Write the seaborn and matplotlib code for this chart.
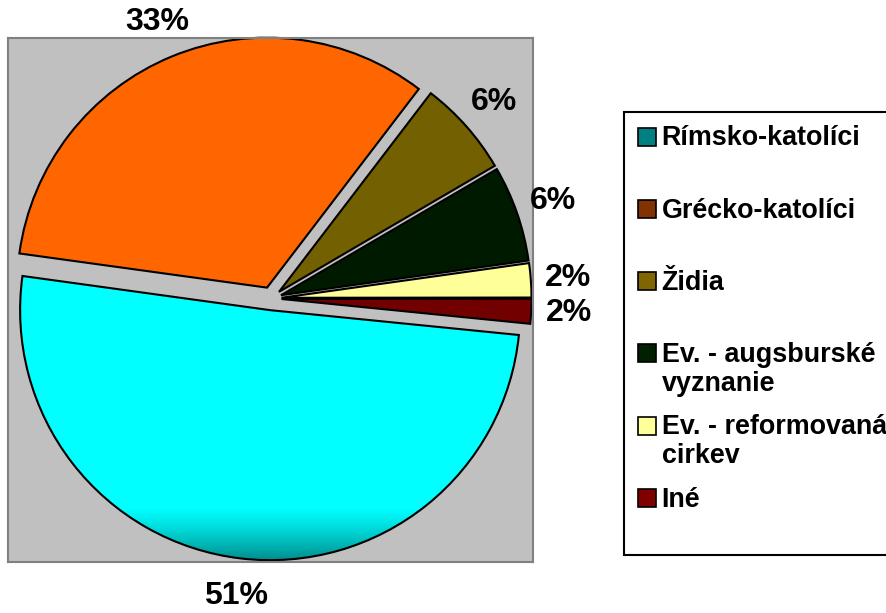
import matplotlib.pyplot as plt
import numpy as np
import seaborn as sns
from matplotlib.colors import LinearSegmentedColormap
from matplotlib.lines import Line2D

# data (shares in %)
groups = ["Rímsko-katolíci", "Grécko-katolíci", "Židia",
          "Ev. - augsburské\nvyznanie", "Ev. - reformovaná\ncirkev", "Iné"]
shares = [50.6, 33.2, 6.2, 6.2, 2.2, 1.6]
explode = [0.047, 0.047, 0.04, 0.04, 0.04, 0.04]

pie_colors = ["#00FFFF", "#FF6600", "#736000", "#001A00", "#FFFF99", "#720000"]
legend_colors = ["#008080", "#803300", "#806600", "#002000", "#FFFF99", "#800000"]

sns.set_style("white")
plt.rcParams["font.family"] = ["Liberation Sans", "DejaVu Sans"]
plt.rcParams["font.weight"] = "bold"
plt.rcParams["text.color"] = "black"

fig = plt.figure(figsize=(8.86, 6.13), dpi=100)
ax = fig.add_axes([8 / 886, 51 / 613, 525 / 886, 524 / 613])
ax.set_facecolor("#C0C0C0")

wedges, texts, autotexts = ax.pie(
    shares, colors=sns.color_palette(pie_colors), explode=explode,
    startangle=-5.7, counterclock=False, autopct="%.0f%%", pctdistance=1.15,
    frame=True, wedgeprops=dict(edgecolor="black", linewidth=1.5))

for t in autotexts:
    t.set_fontsize(23)
    t.set_fontweight("bold")
    t.set_color("black")

# cyan wedge darkens toward teal at the bottom
cmap = LinearSegmentedColormap.from_list("cy", ["#00FFFF", "#00FFFF", "#008585"])
yy = np.linspace(0, 1, 256).reshape(-1, 1)
img = ax.imshow(yy ** 4, cmap=cmap, extent=[-1.1, 1.1, -1.06, 0.3],
                origin="upper", aspect="auto", zorder=wedges[0].get_zorder() + 0.5)
img.set_clip_path(wedges[0])
wedges[0].set_facecolor("none")
wedges[0].set_zorder(wedges[0].get_zorder() + 1)

ax.set_xlim(-1.054, 1.046)
ax.set_ylim(-1.054, 1.042)
ax.set_aspect("auto")
ax.set_xticks([])
ax.set_yticks([])
for s in ax.spines.values():
    s.set_visible(True)
    s.set_color("#808080")
    s.set_linewidth(1.5)

# legend: every entry takes two lines so entries sit at an even pitch
handles = [Line2D([], [], marker="s", linestyle="none", markersize=13,
                  markerfacecolor=c, markeredgecolor="black", markeredgewidth=1.2)
           for c in legend_colors]
labels = [g if "\n" in g else g + "\n " for g in groups]
leg = fig.legend(handles, labels, loc="upper left",
                 bbox_to_anchor=(624 / 886, 1 - 112 / 613),
                 prop=dict(size=19.4, weight="bold"),
                 fancybox=False, framealpha=1, edgecolor="black",
                 handlelength=0.7, handleheight=1.15, handletextpad=0.2,
                 labelspacing=0.64, borderpad=0.5, borderaxespad=0)
leg.get_frame().set_linewidth(1.5)
for t in leg.get_texts():
    t.set_linespacing(1.15)
for col in leg._legend_handle_box.get_children():
    for row in col.get_children():
        row.align = "top"

plt.savefig("out.png", dpi=100)
